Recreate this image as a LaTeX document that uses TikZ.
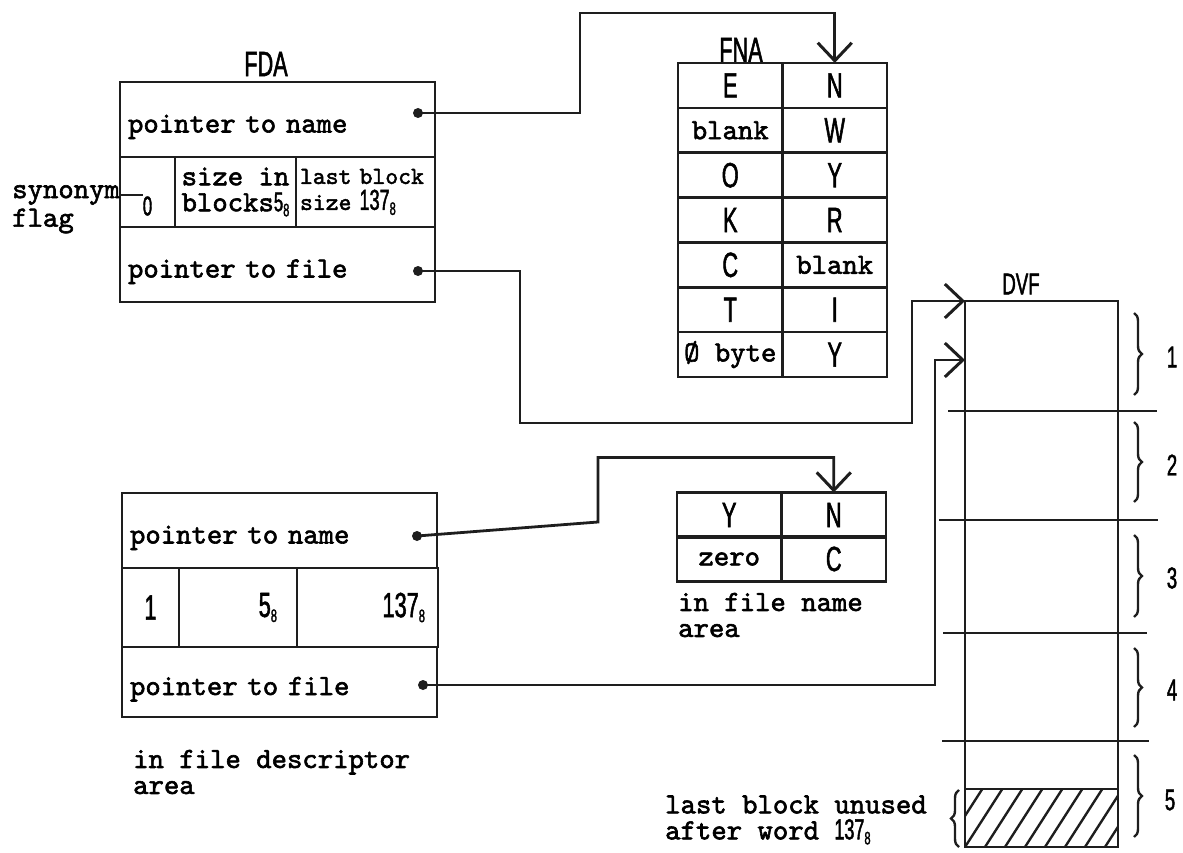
\documentclass[tikz,border=0pt]{standalone}
\usepackage{fontspec}
\usepackage{tikz}
\usetikzlibrary{arrows.meta, positioning, decorations.pathreplacing}
\newfontfamily\typewriter[FakeBold=2]{lmmono10-regular.otf}
\newfontfamily\lettering[FakeStretch=0.62, FakeBold=1.5]{Liberation Sans}
\definecolor{Ink}{HTML}{1E1E1E}
\newcommand{\typefont}{\typewriter\fontsize{29.3}{26}\selectfont}
\newcommand{\typesmall}{\typewriter\fontsize{24.5}{26}\selectfont}
\newcommand{\letterfont}{\lettering\fontsize{35}{35}\selectfont}
\newcommand{\blockfont}{\lettering\fontsize{30}{30}\selectfont}
\newcommand{\octnum}[2][35]{{\lettering\fontsize{#1}{#1}\selectfont #2}{\lettering\fontsize{18}{18}\selectfont\raisebox{-5pt}{8}}}

\begin{document}
\begin{tikzpicture}[
  x=1pt, y=-1pt,
  cell/.style={draw=Ink, line width=2.6pt, inner sep=0pt, outer sep=0pt},
  row/.style={cell, minimum width=315pt, minimum height=#1, inner xsep=8pt, text width=299pt, align=left, font=\typefont, text height=26pt, text depth=0pt},
  fna/.style={cell, minimum width=104.5pt, minimum height=44.9pt, font=\letterfont},
  typed/.style={inner sep=0pt, font=\typefont, align=left},
  letter/.style={inner sep=0pt, font=\letterfont},
  dot/.style={circle, fill=Ink, inner sep=0pt, minimum size=10pt},
  rule/.style={draw=Ink, line width=2.8pt},
  brace/.style={draw=Ink, line width=2.4pt, decorate, decoration={brace, amplitude=8pt}},
  link/.style={draw=Ink, line width=2.8pt, -{Straight Barb[length=18pt, width=34pt, line width=3pt]}}
]
\useasboundingbox (0,0) rectangle (1183,853);

% file descriptor area, first entry
\node[letter] (fdalabel) at (266,64) {FDA};
\node[row=75pt] (fdaname) at (277.5,119.5) {pointer to name};
\node[cell, minimum width=55pt, minimum height=70pt] (fdaflag) at (147.5,192) {};
\node[cell, minimum width=121pt, minimum height=70pt, font=\typefont, align=center] (fdasize) at (235.5,192) {size in\\blocks\octnum[27]{5}};
\node[cell, minimum width=139pt, minimum height=70pt, inner xsep=4pt, text width=131pt, align=left, font=\typesmall] (fdalast) at (365.5,192) {last block\\size \octnum[29]{137}};
\node[row=75pt] (fdafile) at (277.5,264.5) {pointer to file};
\node[letter, font={\lettering\fontsize{27}{27}\selectfont}] (flagzero) at (147.5,206) {0};
\node[typed, anchor=west] (synonym) at (12,195) {synonym};
\node[typed, anchor=west] (flag) at (12,221) {flag};
\draw[draw=Ink, line width=2.2pt] (synonym.east) -- (synonym.east -| flagzero.west);

% file name area, first entry
\node[letter] (fnalabel) at (741,50) {FNA};
\node[fna] (fnaL1) at (730.25,85.4) {E};
\node[fna] (fnaR1) at (834.75,85.4) {N};
\node[fna, font=\typefont] (fnaL2) at (730.25,130.3) {blank};
\node[fna] (fnaR2) at (834.75,130.3) {W};
\node[fna] (fnaL3) at (730.25,175.2) {O};
\node[fna] (fnaR3) at (834.75,175.2) {Y};
\node[fna] (fnaL4) at (730.25,220) {K};
\node[fna] (fnaR4) at (834.75,220) {R};
\node[fna] (fnaL5) at (730.25,264.9) {C};
\node[fna, font=\typefont] (fnaR5) at (834.75,264.9) {blank};
\node[fna] (fnaL6) at (730.25,309.7) {T};
\node[fna] (fnaR6) at (834.75,309.7) {I};
\node[fna, font=\typefont] (fnaL7) at (730.25,354.6) {Ø byte};
\node[fna] (fnaR7) at (834.75,354.6) {Y};

% file descriptor area, second entry
\node[row=75pt] (fdbname) at (279.5,530.5) {pointer to name};
\node[cell, minimum width=57pt, minimum height=79pt, font=\letterfont] (fdbflag) at (150.5,607.5) {1};
\node[cell, minimum width=118pt, minimum height=79pt, inner xsep=20pt, text width=78pt, align=right] (fdbsize) at (238,607.5) {\octnum{5}};
\node[cell, minimum width=141pt, minimum height=79pt, inner xsep=13pt, text width=115pt, align=right] (fdblast) at (367.5,607.5) {\octnum{137}};
\node[row=70pt] (fdbfile) at (279.5,682) {pointer to file};
\node[typed, anchor=west] (descarea) at (133,772) {in file descriptor\\area};

% file name area, second entry
\node[fna] (fnbL1) at (729.25,515) {Y};
\node[fna] (fnbR1) at (833.75,515) {N};
\node[fna, font=\typefont] (fnbL2) at (729.25,559) {zero};
\node[fna] (fnbR2) at (833.75,559) {C};
\node[typed, anchor=west] (namearea) at (678,615) {in file name\\area};

% data of the file
\node[letter, font=\blockfont] (dvflabel) at (1021,284) {DVF};
\node[cell, minimum width=153pt, minimum height=546pt] (dvf) at (1041.5,574) {};
\node[cell, minimum width=153pt, minimum height=58pt] (unused) at (1041.5,818) {};
\begin{scope}
  \clip (unused.south west) rectangle (unused.north east);
  \foreach \k in {0,...,10}
    \draw[rule, line width=2.4pt] ([xshift=\k*20pt-40pt]unused.south west) -- ++(45,-70);
\end{scope}
\draw[rule] (948,411) -- (1157,411);
\draw[rule] (939,520) -- (1158,520);
\draw[rule] (943,633) -- (1147,633);
\draw[rule] (942,741) -- (1149,741);

\draw[brace] (1134,313) -- (1134,395);
\draw[brace] (1134,422) -- (1134,502);
\draw[brace] (1134,535) -- (1134,617);
\draw[brace] (1134,648) -- (1134,727);
\draw[brace] (1134,755) -- (1134,837);
\draw[brace] (959,847) -- (959,790);
\node[letter, font=\blockfont] (blk1) at (1172,357) {1};
\node[letter, font=\blockfont] (blk2) at (1172,465) {2};
\node[letter, font=\blockfont] (blk3) at (1172,578) {3};
\node[letter, font=\blockfont] (blk4) at (1172,690) {4};
\node[letter, font=\blockfont] (blk5) at (1170,800) {5};
\node[typed, anchor=west] (unusednote) at (665,820) {last block unused\\after word \octnum[29]{137}};

% pointers
\node[dot] (pn1) at (418,113) {};
\node[dot] (pf1) at (418,271) {};
\node[dot] (pn2) at (417,536) {};
\node[dot] (pf2) at (423,685) {};
\draw[link] (pn1.center) -| ++(162,-100) -| (fnaR1.north);
\draw[link] (pf1.center) -| ++(102,152) -| ([xshift=-53pt]dvf.north west) -- (dvf.north west);
\draw[link] (pn2.center) -- ++(181,-14) |- ([yshift=35pt]fnbR1.north) -- (fnbR1.north);
\draw[link] (pf2.center) -| ([xshift=-30pt, yshift=-59pt]dvf.north west) -- ([yshift=-59pt]dvf.north west);
\end{tikzpicture}
\end{document}
